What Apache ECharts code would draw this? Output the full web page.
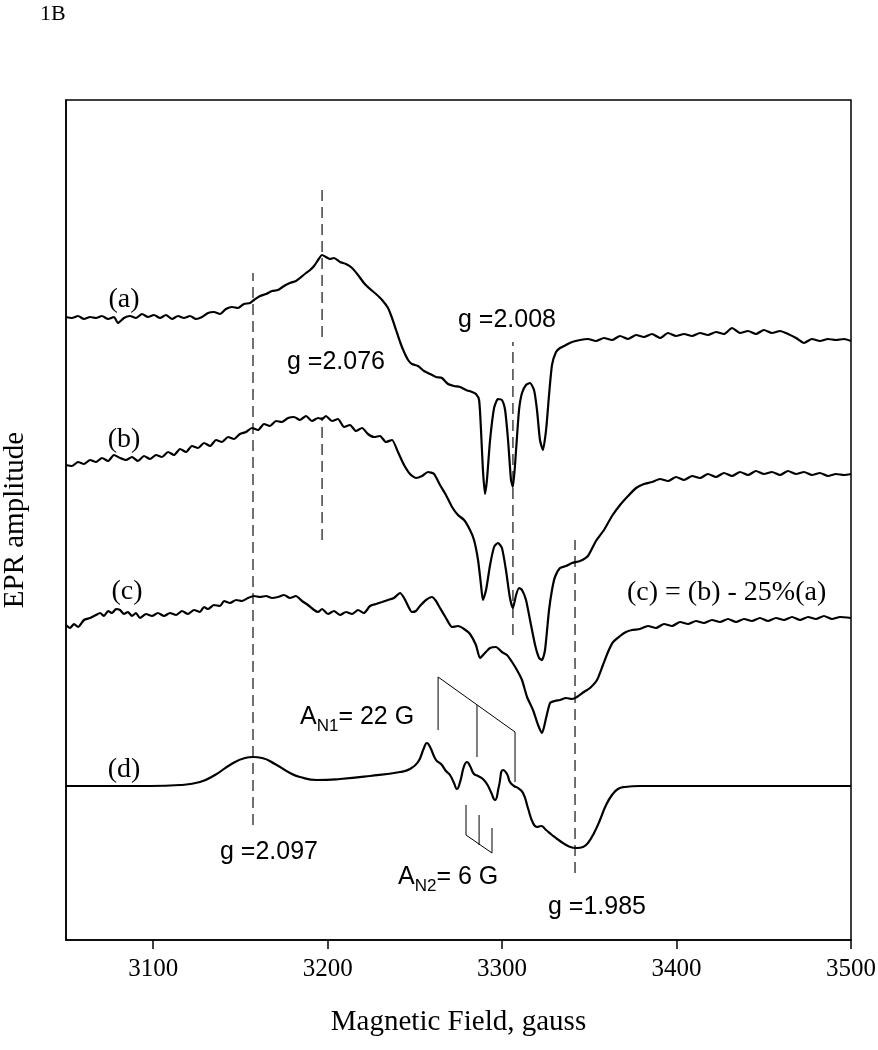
<!DOCTYPE html>
<html><head><meta charset="utf-8">
<script src="https://cdn.jsdelivr.net/npm/echarts@6/dist/echarts.min.js"></script>
<style>html,body{margin:0;padding:0;background:#fff}#c{width:878px;height:1050px}</style>
</head><body><div id="c"></div>
<script>
// Magnetic field (gauss) axis ticks
const fieldTicks = [3100, 3200, 3300, 3400, 3500];

// [field (G), EPR amplitude (arb. units, vertically offset traces)]
const traceA = [[3050,623],[3053.4,622],[3056.9,624],[3060.3,621],[3063.8,623],[3067.2,622],[3070.6,624],[3074.1,621],[3077.5,623],[3079.8,617],[3083.2,622],[3086.7,624],[3090.1,622],[3093.6,626],[3097.0,623],[3100.4,625],[3103.9,622],[3107.3,625],[3110.8,621],[3114.2,624],[3117.6,622],[3121.1,624],[3124.5,621],[3128.0,623],[3131.4,627],[3134.8,628],[3138.3,626],[3141.7,631],[3145.2,633],[3148.6,632],[3152.0,636],[3155.5,637],[3157.8,640],[3161.2,644],[3164.7,646],[3168.1,649],[3171.5,650],[3175.0,654],[3178.4,657],[3181.8,659],[3184.1,662],[3187.6,667],[3189.9,670],[3192.2,674],[3194.5,680],[3196.8,685],[3199.0,683],[3201.3,681],[3203.6,682],[3207.1,678],[3210.5,676],[3214.0,672],[3217.4,665],[3220.8,657],[3224.3,651],[3227.7,646],[3231.2,640],[3234.6,632],[3236.9,622],[3239.2,610],[3241.5,598],[3243.8,588],[3246.1,580],[3248.3,576],[3251.8,574],[3255.2,569],[3258.7,566],[3262.1,563],[3265.5,562],[3269.0,556],[3272.4,554],[3275.9,553],[3279.3,550],[3282.7,548],[3285.0,546],[3286.8,540],[3287.9,510],[3289.0,470],[3290.2,446],[3291.3,460],[3293.1,500],[3295.4,532],[3297.6,541],[3299.9,540],[3301.7,530],[3303.4,500],[3305.1,460],[3306.2,453],[3308.0,490],[3309.7,530],[3311.4,547],[3313.7,555],[3316.0,557],[3318.3,550],[3320.0,530],[3321.7,500],[3323.4,490],[3325.2,510],[3326.9,545],[3328.6,575],[3330.9,588],[3333.2,592],[3336.6,595],[3340.1,598],[3344.7,600],[3349.2,601],[3353.8,599],[3358.4,602],[3363.0,600],[3367.6,604],[3372.2,601],[3376.8,605],[3381.3,603],[3385.9,606],[3390.5,602],[3395.1,607],[3399.7,604],[3404.3,606],[3408.9,604],[3413.4,607],[3418.0,605],[3422.6,608],[3427.2,606],[3431.8,612],[3436.4,607],[3441.0,609],[3445.5,606],[3450.1,610],[3454.7,607],[3459.3,609],[3463.9,606],[3468.5,602],[3473.1,597],[3477.6,601],[3482.2,599],[3486.8,601],[3491.4,600],[3496.0,601],[3500,599]];

const traceB = [[3050,475],[3053.4,474],[3056.9,478],[3060.3,476],[3063.8,480],[3067.2,478],[3070.6,482],[3074.1,479],[3077.5,485],[3081.0,482],[3084.4,480],[3087.8,483],[3091.3,479],[3094.7,484],[3098.2,481],[3101.6,485],[3105.0,483],[3108.5,488],[3111.9,485],[3115.4,491],[3118.8,488],[3122.2,494],[3125.7,492],[3129.1,497],[3132.6,494],[3136.0,500],[3139.4,498],[3142.9,503],[3146.3,501],[3149.7,506],[3153.2,508],[3156.6,512],[3160.1,510],[3163.5,516],[3166.9,514],[3170.4,519],[3173.8,518],[3177.3,522],[3180.7,523],[3184.1,520],[3187.6,524],[3191.0,519],[3194.5,522],[3196.8,521],[3199.0,524],[3202.5,519],[3205.9,521],[3209.4,513],[3212.8,515],[3216.2,509],[3219.7,512],[3223.1,506],[3226.6,503],[3230.0,504],[3233.4,498],[3236.9,500],[3240.3,488],[3243.8,475],[3247.2,466],[3250.6,462],[3254.1,464],[3257.5,468],[3261.0,466],[3264.4,455],[3267.8,445],[3271.3,433],[3274.7,425],[3278.2,420],[3281.6,410],[3283.9,400],[3286.2,380],[3287.9,355],[3289.0,340],[3290.8,350],[3293.1,375],[3295.4,393],[3297.6,397],[3299.9,392],[3302.2,370],[3304.5,342],[3306.2,332],[3308.0,345],[3309.7,352],[3311.4,350],[3313.7,340],[3316.0,320],[3318.9,295],[3321.2,282],[3322.9,280],[3324.6,290],[3326.9,330],[3328.6,350],[3330.3,363],[3333.2,372],[3336.6,374],[3340.1,377],[3344.7,379],[3349.2,384],[3353.8,399],[3358.4,410],[3363.0,424],[3367.6,435],[3372.2,444],[3376.8,452],[3381.3,456],[3385.9,458],[3390.5,461],[3395.1,459],[3399.7,463],[3404.3,460],[3408.9,464],[3413.4,462],[3418.0,466],[3422.6,463],[3427.2,467],[3431.8,464],[3436.4,468],[3441.0,465],[3445.5,469],[3450.1,466],[3454.7,468],[3459.3,465],[3463.9,469],[3468.5,466],[3473.1,468],[3477.6,465],[3482.2,467],[3486.8,464],[3491.4,466],[3496.0,465],[3500,466]];

const traceC = [[3050,315],[3052.3,312],[3054.6,316],[3056.9,313],[3060.3,320],[3063.8,322],[3067.2,325],[3069.5,327],[3071.8,324],[3074.1,329],[3076.4,327],[3078.7,331],[3081.0,330],[3083.2,326],[3085.5,328],[3087.8,324],[3090.1,327],[3092.4,322],[3095.9,326],[3099.3,324],[3102.7,327],[3106.2,324],[3109.6,327],[3113.1,325],[3116.5,329],[3119.9,326],[3123.4,330],[3126.8,328],[3129.1,333],[3131.4,331],[3134.8,335],[3138.3,334],[3140.6,339],[3144.0,337],[3147.5,340],[3150.9,339],[3154.3,342],[3157.8,344],[3161.2,343],[3164.7,344],[3168.1,342],[3171.5,343],[3175.0,345],[3178.4,342],[3181.8,344],[3185.3,339],[3188.7,335],[3192.2,330],[3194.5,328],[3196.8,331],[3200.2,326],[3203.6,329],[3207.1,325],[3210.5,328],[3214.0,326],[3217.4,330],[3220.8,327],[3224.3,334],[3227.7,336],[3231.2,338],[3234.6,340],[3238.0,342],[3241.5,347],[3243.8,342],[3246.1,334],[3248.3,328],[3250.6,329],[3252.9,334],[3256.4,340],[3259.8,343],[3262.1,339],[3264.4,332],[3267.8,322],[3271.3,313],[3274.7,314],[3278.2,311],[3281.6,306],[3285.0,295],[3287.3,282],[3289.6,286],[3293.1,292],[3296.5,293],[3299.9,288],[3302.8,285],[3305.7,278],[3308.5,270],[3311.4,260],[3314.3,243],[3317.7,230],[3320.6,215],[3322.9,207],[3325.2,222],[3327.5,237],[3330.3,239],[3333.2,240],[3336.6,242],[3340.1,241],[3342.9,243],[3346.9,248],[3350.4,252],[3354.4,260],[3357.8,275],[3360.7,288],[3363.6,298],[3367.6,304],[3371.0,308],[3374.5,310],[3379.0,311],[3383.6,314],[3388.2,312],[3392.8,316],[3397.4,314],[3402.0,318],[3406.6,316],[3411.1,319],[3415.7,317],[3420.3,320],[3424.9,318],[3429.5,321],[3434.1,318],[3438.7,321],[3443.2,319],[3447.8,322],[3452.4,319],[3457.0,322],[3461.6,320],[3466.2,323],[3470.8,320],[3475.4,323],[3479.9,321],[3484.5,324],[3489.1,321],[3493.7,323],[3500,322]];

const traceD = [[3050,154],[3069.5,154],[3098.2,154],[3115.4,155],[3126.8,158],[3135.4,165],[3144.0,175],[3152.6,182],[3157.2,183],[3162.4,182],[3169.8,176],[3178.4,167],[3184.1,163],[3193.9,160],[3207.1,161],[3224.3,164],[3241.5,168],[3247.2,171],[3251.8,178],[3255.2,192],[3256.9,197],[3258.7,193],[3262.1,180],[3265.0,176],[3267.8,169],[3270.1,165],[3272.4,157],[3274.1,151],[3275.9,158],[3278.2,174],[3279.9,178],[3281.6,174],[3283.9,166],[3286.2,164],[3289.0,161],[3291.3,156],[3293.6,148],[3295.9,140],[3298.2,154],[3300.5,170],[3302.8,166],[3304.5,158],[3306.8,154],[3309.1,152],[3312.0,147],[3314.8,132],[3317.7,117],[3320.0,113],[3322.3,114],[3325.2,110],[3328.6,105],[3333.2,99],[3337.8,94],[3342.9,92],[3346.4,93],[3349.2,97],[3352.7,107],[3356.1,120],[3359.6,135],[3363.0,145],[3366.4,151],[3370.4,153],[3379.0,154],[3413.4,154],[3500,154]];

// g-value marker lines: field (G) and amplitude extents of each dashed segment
const gFields = [3157.2, 3196.8, 3306.2, 3341.8];
const gSegments = [[[115,667]], [[603,755],[400,523]], [[305,598]], [[67,400]]];

// hyperfine stick diagrams (field positions, amplitude ends)
const hfN1Fields = [3263.3, 3285.6, 3307.4];
const hfN1Top = [263, 235, 208];
const hfN1Bottom = [210, 183, 158];
const hfN2Fields = [3279.3, 3286.8, 3294.2];
const hfN2Top = [135, 125, 112];
const hfN2Bottom = [105, 95, 87];

const serif = '"Liberation Serif", "Times New Roman", serif';
const sans = '"Liberation Sans", Arial, sans-serif';

const series = [];
[traceA, traceB, traceC].forEach(d => series.push({
  type:'line', data:d, showSymbol:false, smooth:0.2,
  lineStyle:{color:'#000', width:2.2}, z:5, silent:true
}));
series.push({type:'line', data:traceD, showSymbol:false, smooth:0.5,
  lineStyle:{color:'#000', width:2.2}, z:5, silent:true});

gFields.forEach((f,i) => gSegments[i].forEach(s => series.push({
  type:'line', data:[[f,s[0]],[f,s[1]]], showSymbol:false,
  lineStyle:{color:'#333', width:1.4, type:[11,6]}, z:3, silent:true
})));

function sticks(fields, top, bottom){
  fields.forEach((f,i) => series.push({type:'line', data:[[f,top[i]],[f,bottom[i]]],
    showSymbol:false, lineStyle:{color:'#000', width:1}, silent:true}));
}
sticks(hfN1Fields, hfN1Top, hfN1Bottom);
series.push({type:'line', data:[[hfN1Fields[0],hfN1Top[0]],[hfN1Fields[2],hfN1Top[2]]], showSymbol:false, lineStyle:{color:'#000', width:1}, silent:true});
sticks(hfN2Fields, hfN2Top, hfN2Bottom);
series.push({type:'line', data:[[hfN2Fields[0],hfN2Bottom[0]],[hfN2Fields[2],hfN2Bottom[2]]], showSymbol:false, lineStyle:{color:'#000', width:1}, silent:true});

function txt(t, x, y, font, align){
  return {type:'text', x:x, y:y, silent:true, style:{text:t, font:font, fill:'#000',
    textAlign:align||'left', align:align||'left', textVerticalAlign:'middle', verticalAlign:'middle'}};
}
function subTxt(main, sub, rest, x, y){
  return {type:'text', x:x, y:y, silent:true, style:{
    text:'{m|'+main+'}{s|'+sub+'}{m|'+rest+'}', fill:'#000',
    textVerticalAlign:'middle', verticalAlign:'middle',
    rich:{m:{font:'25px '+sans, lineHeight:36, verticalAlign:'middle', fill:'#000'},
          s:{font:'17px '+sans, lineHeight:36, verticalAlign:'bottom', fill:'#000'}}}};
}

const chart = echarts.init(document.getElementById('c'));
chart.setOption({
  animation:false,
  backgroundColor:'#fff',
  grid:{left:66, right:27, top:100, bottom:110, show:true, borderColor:'#000', borderWidth:1.5,
    backgroundColor:'transparent', containLabel:false, outerBoundsMode:'none'},
  xAxis:{type:'value', min:3050, max:3500, interval:100,
    name:'Magnetic Field, gauss', nameLocation:'middle', nameGap:68,
    nameTextStyle:{fontFamily:serif, fontSize:29, color:'#000'},
    axisLine:{lineStyle:{color:'#000', width:1.5}},
    axisTick:{show:true, inside:false, length:9, lineStyle:{color:'#000', width:1.5},
      customValues: fieldTicks},
    axisLabel:{fontFamily:serif, fontSize:25, color:'#000', margin:17,
      customValues: fieldTicks, formatter: v => String(v)},
    splitLine:{show:false}},
  yAxis:{type:'value', min:0, max:840,
    name:'EPR amplitude', nameLocation:'middle', nameGap:36,
    nameTextStyle:{fontFamily:serif, fontSize:29, color:'#000'},
    axisLine:{show:true, lineStyle:{color:'#000', width:1.5}},
    axisTick:{show:false}, axisLabel:{show:false}, splitLine:{show:false}},
  series:series,
  graphic:[
    txt('1B', 40, 14, '22px '+serif),
    txt('(a)', 124, 300, '28px '+serif, 'center'),
    txt('(b)', 124, 440, '28px '+serif, 'center'),
    txt('(c)', 127, 592, '28px '+serif, 'center'),
    txt('(d)', 124, 770, '28px '+serif, 'center'),
    txt('(c) = (b) - 25%(a)', 627, 593, '28px '+serif),
    txt('g =2.076', 287, 362, '25px '+sans),
    txt('g =2.008', 458, 320, '25px '+sans),
    txt('g =2.097', 220, 852, '25px '+sans),
    txt('g =1.985', 548, 907, '25px '+sans),
    subTxt('A', 'N1', '= 22 G', 300, 717),
    subTxt('A', 'N2', '= 6 G', 398, 877)
  ]
});
</script></body></html>
